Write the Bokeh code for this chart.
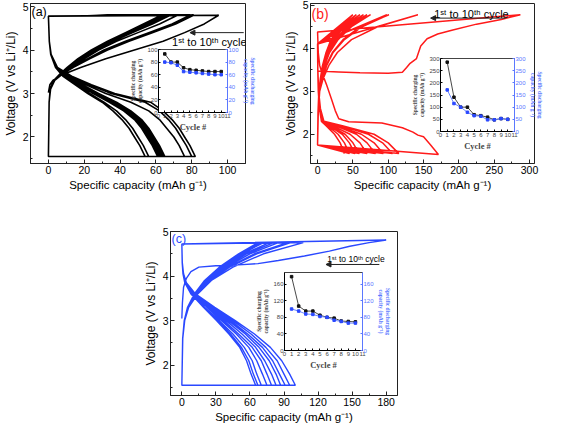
from bokeh.plotting import figure
from bokeh.models import (Range1d, LinearAxis, SingleIntervalTicker, FixedTicker,
                          Label, Arrow, NormalHead, GridBox, ColumnDataSource)
from bokeh.embed import file_html
from bokeh.resources import INLINE

# ---------------- data: panel (a) ----------------
a_first_chg_v = [3.02, 3.2, 3.3, 3.4, 3.6, 3.8, 4.0, 4.2, 4.4, 4.6, 4.8]
a_first_chg_q = [0, 0.8, 2.5, 6, 18, 32, 48, 64, 76, 87, 95]
a_chg_grid = [1.55, 2.8, 3.1, 3.3, 3.45, 3.6, 3.8, 4.0, 4.2, 4.4, 4.6, 4.8]
a_chg_q = [
    [0, 0.4, 1.2, 3.5, 8, 14, 23, 33, 45, 58, 71, 81],
    [0, 0.4, 1.2, 3.5, 8, 13, 22, 31, 43, 56, 69, 79],
    [0, 0.4, 1.1, 3.2, 7.5, 12, 20, 28, 38, 50, 62, 72],
    [0, 0.4, 1.1, 3.2, 7, 12, 19, 27, 36, 47, 58, 68],
    [0, 0.4, 1.1, 3.1, 7, 11.5, 18.5, 26, 35, 46, 57, 67],
    [0, 0.4, 1.0, 3.0, 7, 11.5, 18, 25.5, 34.5, 45, 56, 66],
    [0, 0.4, 1.0, 3.0, 6.8, 11, 17.5, 25, 34, 44, 55, 65],
    [0, 0.4, 1.0, 3.0, 6.8, 11, 17, 24.5, 33.5, 43.5, 54, 64],
    [0, 0.4, 1.0, 2.9, 6.5, 10.5, 16.5, 24, 33, 43, 53, 63],
]
a_dis_grid = [4.78, 4.2, 3.9, 3.6, 3.4, 3.2, 3.0, 2.8, 2.6, 2.4, 2.2, 2.0, 1.8, 1.55]
a_dis_q = [
    [0, 0.5, 1.5, 5, 13, 24, 37, 57, 64, 69, 73, 76, 79, 82],
    [0, 0.5, 1.5, 5, 12, 23, 35, 54, 62, 67, 71, 74, 77, 80],
    [0, 0.5, 1.5, 4.5, 11, 21, 32, 46, 56, 62, 66, 70, 73, 76],
    [0, 0.5, 1.4, 4.5, 10, 19, 28, 38, 46, 52, 56, 59, 62, 65],
    [0, 0.5, 1.4, 4.5, 10, 18.5, 27, 37, 45, 51, 55, 58, 61, 64],
    [0, 0.5, 1.4, 4.3, 9.5, 18, 26.5, 36, 44, 50, 54, 57, 60, 63],
    [0, 0.5, 1.4, 4.3, 9.5, 18, 26, 35, 43, 49, 53, 56, 59, 62],
    [0, 0.5, 1.3, 4.2, 9, 17, 25, 34, 42, 48, 52, 55, 58, 61],
    [0, 0.5, 1.3, 4.0, 8.5, 16, 23, 31, 38, 43, 47, 50, 53, 56],
    [0, 0.5, 1.3, 4.0, 8, 15, 22, 30, 36, 41, 45, 48, 51, 54],
]

# ---------------- data: panel (b) ----------------
b_first_chg_q = [0, 30, 60, 100, 120, 126, 131, 140, 146, 155, 170, 190, 225, 260, 287]
b_first_chg_v = [3.47, 3.45, 3.43, 3.42, 3.44, 3.55, 3.65, 3.76, 4.05, 4.22, 4.33, 4.42, 4.56, 4.67, 4.78]
b_first_dis_q = [0, 1, 3, 6, 12.5, 20, 25, 30, 44, 91, 120, 135, 142, 150, 160, 171]
b_first_dis_v = [4.38, 3.9, 3.6, 3.44, 3.16, 2.8, 2.55, 2.36, 2.29, 2.26, 2.15, 2.05, 1.98, 1.94, 1.75, 1.53]
b_chg_grid = [1.75, 2.5, 3.0, 3.3, 3.6, 3.9, 4.2, 4.5, 4.78]
b_chg_q = [
    [0, 1.0, 3.0, 8, 16, 28, 48, 85, 142],
    [0, 1.0, 3.0, 7, 13, 22, 38, 63, 101],
    [0, 1.0, 2.5, 6, 12, 21, 36, 60, 98],
    [0, 0.8, 2.5, 5.5, 10, 17, 29, 48, 75],
    [0, 0.8, 2.2, 5, 9, 16, 27, 45, 70],
    [0, 0.8, 2.0, 4.5, 8.5, 15, 25, 42, 65],
    [0, 0.7, 2.0, 4.5, 8, 14, 23, 38, 60],
    [0, 0.7, 1.8, 4, 7.5, 13, 21, 35, 55],
    [0, 0.6, 1.8, 4, 7, 12, 19, 32, 50],
]
b_dis_grid = [4.1, 3.5, 3.0, 2.6, 2.3, 2.2, 2.0, 1.8, 1.55]
b_dis_q = [
    [0, 0.4, 1.5, 4, 9, 35, 80, 100, 115],
    [0, 0.4, 1.5, 4, 9, 32, 72, 92, 106],
    [0, 0.4, 1.4, 3.8, 8.5, 28, 62, 80, 93],
    [0, 0.4, 1.4, 3.6, 8, 25, 55, 70, 82],
    [0, 0.3, 1.3, 3.4, 7.5, 21, 46, 60, 70],
    [0, 0.3, 1.2, 3.2, 7, 18, 39, 50, 59],
    [0, 0.3, 1.2, 3.0, 6.5, 16, 35, 45, 53],
    [0, 0.3, 1.1, 2.8, 6, 14, 29, 38, 45],
    [0, 0.3, 1.0, 2.6, 5.5, 12, 24, 32, 38],
]

# ---------------- data: panel (c) ----------------
c_first_chg_q = [0, 0.5, 1.5, 4, 8, 15, 30, 50, 67, 85, 108, 130, 148, 165, 180]
c_first_chg_v = [3.05, 3.4, 3.75, 3.95, 4.1, 4.2, 4.23, 4.25, 4.28, 4.35, 4.45, 4.56, 4.67, 4.75, 4.81]
c_chg_grid = [1.55, 2.6, 3.0, 3.3, 3.6, 3.9, 4.2, 4.5, 4.75]
c_chg_q = [
    [0, 0.8, 2.5, 6, 14, 26, 45, 72, 107],
    [0, 0.8, 2.5, 6, 13.5, 25, 42, 66, 96],
    [0, 0.8, 2.4, 5.8, 13, 24, 41, 64, 93],
    [0, 0.8, 2.4, 5.6, 12.5, 23, 39, 60, 85],
    [0, 0.8, 2.3, 5.5, 12, 22, 37, 57, 81],
    [0, 0.8, 2.3, 5.4, 12, 21.5, 36, 55, 77],
    [0, 0.7, 2.2, 5.3, 11.5, 21, 35, 53, 72],
    [0, 0.7, 2.2, 5.2, 11.5, 20.5, 34, 51, 70],
    [0, 0.7, 2.1, 5.0, 11, 20, 33, 50, 67],
]
c_dis_grid = [4.72, 4.3, 4.05, 3.85, 3.6, 3.3, 3.0, 2.7, 2.4, 2.1, 1.8, 1.55]
c_dis_q = [
    [0, 0.4, 1.5, 4, 12, 29, 47, 64, 78, 88, 95, 100],
    [0, 0.4, 1.4, 3.8, 11.5, 27.5, 45, 61, 74, 84, 90, 95],
    [0, 0.4, 1.4, 3.7, 11, 26.5, 43, 58, 71, 80, 86, 91],
    [0, 0.4, 1.3, 3.5, 10.5, 25, 41, 56, 68, 77, 83, 87],
    [0, 0.4, 1.3, 3.4, 10, 24, 39, 53, 65, 73, 79, 83],
    [0, 0.4, 1.2, 3.2, 9.5, 23, 37, 50, 62, 70, 75, 79],
    [0, 0.4, 1.2, 3.0, 9, 22, 35, 48, 59, 66, 71, 75],
    [0, 0.3, 1.1, 2.8, 8.5, 20, 33, 45, 55, 62, 66, 70],
    [0, 0.3, 1.1, 2.7, 8, 19.5, 31.5, 43, 52.5, 59, 63, 67],
    [0, 0.3, 1.0, 2.6, 8, 19, 30.5, 41.5, 51, 57, 61, 65],
]

# ---------------- data: insets ----------------
cycles = [1, 2, 3, 4, 5, 6, 7, 8, 9, 10]
a_chg_cap = [93, 80, 80, 71, 68, 67, 66, 65, 65, 65]
a_dis_cap = [80, 79, 75, 65, 64, 63, 62, 61, 60, 60]
b_chg_cap = [285, 141, 100, 100, 69, 65, 59, 48, 53, 50]
b_dis_cap = [171, 115, 100, 79, 65, 63, 48, 48, 53, 50]
c_chg_cap = [178, 107, 95, 95, 85, 80, 78, 71, 70, 69]
c_dis_cap = [100, 95, 88, 87, 82, 80, 73, 70, 66, 66]

inset_x_ticks = list(range(12))
cycle_text = "1\u02e2\u1d57 to 10\u1d57\u02b0 cycle"

SANS = "Liberation Sans"
SERIF = "Liberation Serif"
RED = "#ff1a1a"
BLUE = "#2a48ff"
LBLUE = "#5a78ff"


def build_path(chg_v_list, chg_q_list, dis_v_list, dis_q_list):
    xs, ys = [], []
    for cv, cq, dv, dq in zip(chg_v_list, chg_q_list, dis_v_list, dis_q_list):
        xs.extend(cq)
        ys.extend(cv)
        xs.extend(dq)
        ys.extend(dv)
    return xs, ys


def style_axis(ax, tick_size, label_size):
    ax.major_tick_in = 4
    ax.major_tick_out = 0
    ax.minor_tick_in = 2
    ax.minor_tick_out = 0
    ax.major_label_text_font = SANS
    ax.major_label_text_font_size = tick_size
    ax.major_label_text_color = "black"
    ax.axis_label_text_font = SANS
    ax.axis_label_text_font_size = label_size
    ax.axis_label_text_font_style = "normal"
    ax.axis_label_text_color = "black"
    ax.major_label_standoff = 2
    ax.axis_label_standoff = 2
    ax.axis_line_color = "#222222"
    ax.major_tick_line_color = "#222222"
    ax.minor_tick_line_color = "#222222"


def main_panel(w, h, xr, yr, xint, ml, mr, mt, mb):
    p = figure(width=w, height=h, x_range=Range1d(*xr), y_range=Range1d(*yr),
               output_backend="svg", toolbar_location=None,
               min_border_left=ml, min_border_right=mr,
               min_border_top=mt, min_border_bottom=mb,
               border_fill_color="white", background_fill_color="white")
    p.grid.visible = False
    p.outline_line_color = "#222222"
    p.outline_line_width = 1
    p.outline_line_alpha = 1
    p.xaxis.ticker = SingleIntervalTicker(interval=xint, num_minor_ticks=2)
    p.yaxis.ticker = SingleIntervalTicker(interval=1, num_minor_ticks=2)
    p.xaxis.axis_label = "Specific capacity (mAh g\u207b\u00b9)"
    p.yaxis.axis_label = "Voltage (V vs Li\u207a/Li)"
    style_axis(p.xaxis[0], "10.5px", "11.5px")
    style_axis(p.yaxis[0], "10.5px", "12px")
    return p


def inset_panel(w, h, ymax, yint, chg, dis):
    p = figure(width=w, height=h, x_range=Range1d(0, 11), y_range=Range1d(0, ymax),
               output_backend="svg", toolbar_location=None,
               min_border_left=28, min_border_right=26, min_border_top=4,
               min_border_bottom=22, border_fill_color=None,
               background_fill_color="white")
    p.grid.visible = False
    p.outline_line_color = "#444444"
    p.extra_y_ranges = {"r": Range1d(0, ymax)}
    rax = LinearAxis(y_range_name="r")
    p.add_layout(rax, "right")
    p.xaxis.ticker = FixedTicker(ticks=inset_x_ticks)
    p.yaxis.ticker = SingleIntervalTicker(interval=yint, num_minor_ticks=0)
    for ax in [p.xaxis[0], p.yaxis[0], rax]:
        ax.major_tick_in = 2
        ax.major_tick_out = 0
        ax.minor_tick_in = 0
        ax.minor_tick_out = 0
        ax.major_label_text_font = SANS
        ax.major_label_text_font_size = "6px"
        ax.major_label_standoff = 1
        ax.axis_label_standoff = 1
        ax.axis_label_text_font = SERIF
        ax.axis_label_text_font_style = "bold"
        ax.axis_label_text_font_size = "5.5px"
    p.xaxis.axis_label = "Cycle #"
    p.xaxis.axis_label_text_font_size = "8.5px"
    p.yaxis[0].axis_label = "Specific charging\ncapacity (mAh g\u207b\u00b9)"
    rax.axis_label = "Specific discharging\ncapacity (mAh g\u207b\u00b9)"
    rax.axis_label_text_color = LBLUE
    rax.major_label_text_color = LBLUE
    rax.axis_line_color = LBLUE
    rax.major_tick_line_color = LBLUE
    p.line(cycles, chg, line_color="#333333", line_width=0.9)
    p.scatter(cycles, chg, marker="square", size=2.5, fill_color="#111111", line_color="#111111")
    p.line(cycles, dis, line_color=LBLUE, line_width=0.9, y_range_name="r")
    p.scatter(cycles, dis, marker="square", size=2.5, fill_color=BLUE, line_color=BLUE,
              y_range_name="r")
    return p


def add_cycle_note(p, x0, x1, ya, xt, yt, size):
    p.add_layout(Arrow(x_start=x1, y_start=ya, x_end=x0, y_end=ya, line_width=1,
                       line_color="#222222",
                       end=NormalHead(size=5, fill_color="#222222", line_color="#222222")))
    p.add_layout(Label(x=xt, y=yt, text=cycle_text, text_font=SANS, text_font_size=size,
                       text_baseline="middle", text_color="black"))


# ---------------- panel (a) ----------------
pa = main_panel(250, 202, (-10, 110), (1.39, 5.07), 20, 26, 5, 3, 39)
ax_, ay_ = build_path([a_first_chg_v] + [a_chg_grid] * 9, [a_first_chg_q] + a_chg_q,
                      [a_dis_grid] * 10, a_dis_q)
pa.line(ax_, ay_, line_color="black", line_width=1.6)
pa.add_layout(Label(x=-10, y=5.03, text="(a)", text_font=SANS, text_font_size="12.5px",
                    text_baseline="top", x_offset=1, text_color="black"))
add_cycle_note(pa, 79, 109, 4.4, 69, 4.18, "11px")

# ---------------- panel (b) ----------------
pb = main_panel(301, 202, (-10, 307), (1.32, 5.04), 50, 60, 17, 3, 28)
bx_, by_ = build_path([b_first_chg_v] + [b_chg_grid] * 9, [b_first_chg_q] + b_chg_q,
                      [b_first_dis_v] + [b_dis_grid] * 9, [b_first_dis_q] + b_dis_q)
pb.line(bx_, by_, line_color=RED, line_width=1.5)
pb.add_layout(Label(x=-10, y=4.98, text="(b)", text_font=SANS, text_font_size="14px",
                    text_baseline="top", x_offset=1, text_color=RED))
add_cycle_note(pb, 160, 266, 4.70, 165, 4.79, "11px")

# ---------------- panel (c) ----------------
pc = main_panel(300, 221, (-10, 190), (1.32, 5.0), 30, 50, 23, 27, 28)
cx_, cy_ = build_path([c_first_chg_v] + [c_chg_grid] * 9, [c_first_chg_q] + c_chg_q,
                      [c_dis_grid] * 10, c_dis_q)
pc.line(cx_, cy_, line_color=BLUE, line_width=1.4)
pc.add_layout(Label(x=-10, y=5.0, text="(c)", text_font=SANS, text_font_size="12.5px",
                    text_baseline="top", x_offset=1, text_color=BLUE))
add_cycle_note(pc, 127, 174, 4.26, 128, 4.39, "8.5px")

# ---------------- insets ----------------
ia = inset_panel(131, 89, 100, 20, a_chg_cap, a_dis_cap)
ib = inset_panel(136, 99, 300, 50, b_chg_cap, b_dis_cap)
ic = inset_panel(140, 104, 188, 40, c_chg_cap, c_dis_cap)

grid = GridBox(children=[
    (pa, 0, 0, 202, 250),
    (pb, 0, 250, 202, 301),
    (pc, 204, 120, 221, 300),
    (ia, 45, 127, 89, 131),
    (ib, 54, 409, 99, 136),
    (ic, 268, 253, 104, 140),
], rows="1px", cols="1px", spacing=0)

open("out.html", "w").write(file_html(grid, INLINE))
